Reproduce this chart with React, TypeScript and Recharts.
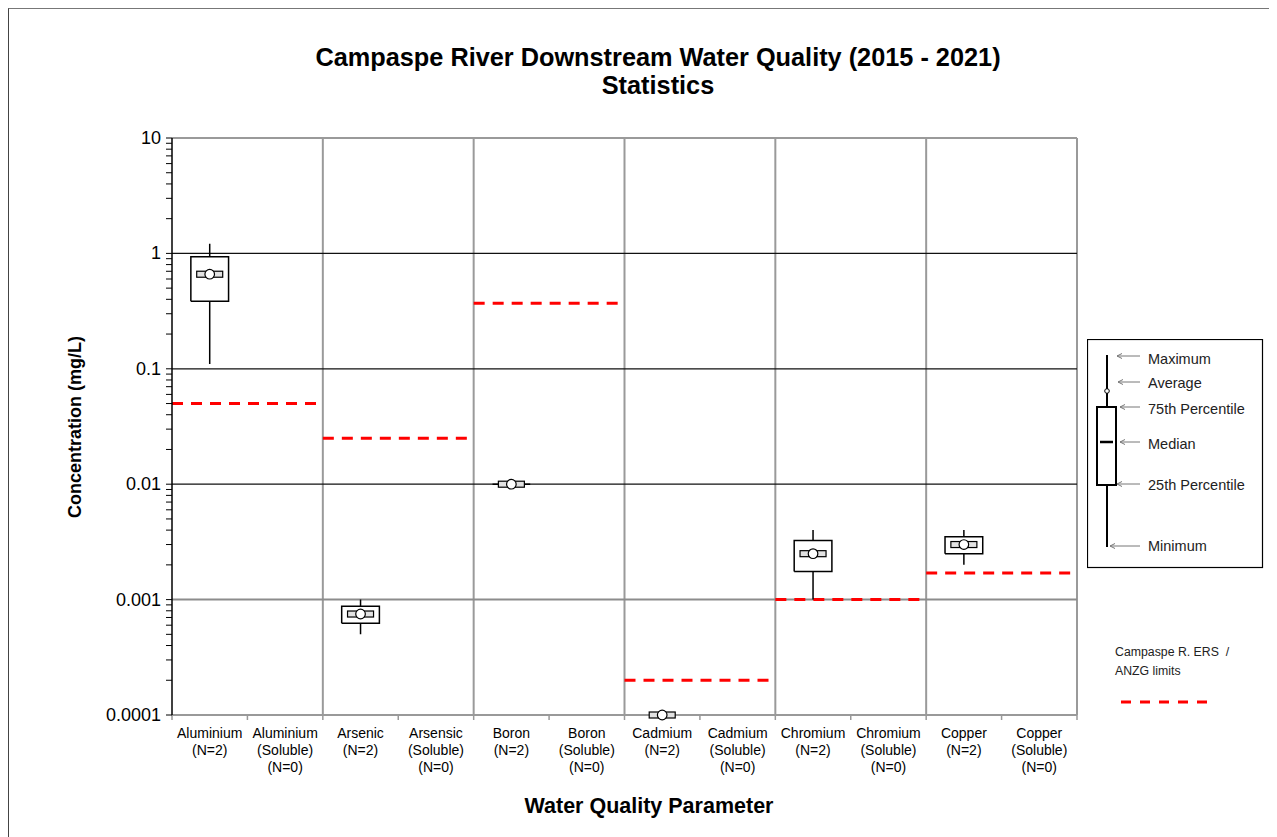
import React from 'react';
import { ComposedChart, Line, Scatter, XAxis, YAxis, ReferenceLine } from 'recharts';

// ---------- data ----------
const categoryLabels: string[][] = [
  ['Aluminium', '(N=2)'],
  ['Aluminium', '(Soluble)', '(N=0)'],
  ['Arsenic', '(N=2)'],
  ['Arsensic', '(Soluble)', '(N=0)'],
  ['Boron', '(N=2)'],
  ['Boron', '(Soluble)', '(N=0)'],
  ['Cadmium', '(N=2)'],
  ['Cadmium', '(Soluble)', '(N=0)'],
  ['Chromium', '(N=2)'],
  ['Chromium', '(Soluble)', '(N=0)'],
  ['Copper', '(N=2)'],
  ['Copper', '(Soluble)', '(N=0)'],
];

const minValues: (number | null)[] = [0.11, null, 0.0005, null, 0.01, null, 0.0001, null, 0.001, null, 0.002, null];
const q1Values: (number | null)[] = [0.385, null, 0.000625, null, 0.01, null, 0.0001, null, 0.00175, null, 0.0025, null];
const medianValues: (number | null)[] = [0.66, null, 0.00075, null, 0.01, null, 0.0001, null, 0.0025, null, 0.003, null];
const q3Values: (number | null)[] = [0.935, null, 0.000875, null, 0.01, null, 0.0001, null, 0.00325, null, 0.0035, null];
const maxValues: (number | null)[] = [1.21, null, 0.001, null, 0.01, null, 0.0001, null, 0.004, null, 0.004, null];
const averageValues: (number | null)[] = [0.66, null, 0.00075, null, 0.01, null, 0.0001, null, 0.0025, null, 0.003, null];

// one guideline limit per parameter (spans its total + soluble categories)
const limitValues: number[] = [0.05, 0.025, 0.37, 0.0002, 0.001, 0.0017];

const yMajorTicks: number[] = [0.0001, 0.001, 0.01, 0.1, 1, 10];
const yMajorTickLabels: string[] = ['0.0001', '0.001', '0.01', '0.1', '1', '10'];
const yMinorMultipliers: number[] = [2, 3, 4, 5, 6, 7, 8, 9];

const legendItems: string[] = ['Maximum', 'Average', '75th Percentile', 'Median', '25th Percentile', 'Minimum'];

// ---------- layout ----------
const OFFX = 9;
const OFFY = 9;
const CHART_W = 1080;
const CHART_H = 829;
const Y_AXIS_W = 163;
const MARGIN = { top: 129, right: 12, bottom: 122, left: 0 };
const PLOT_W = CHART_W - Y_AXIS_W - MARGIN.right - MARGIN.left;
const NCAT = categoryLabels.length;
const HALF_CAT = PLOT_W / NCAT / 2;
const BOX_HALF = 0.25; // in category units

// ---------- derived tables ----------
const yTicks: number[] = [];
yMajorTicks.forEach((t, i) => {
  yTicks.push(t);
  if (i < yMajorTicks.length - 1) yMinorMultipliers.forEach((m) => yTicks.push(m * t));
});

const boxPath: { x: number; y: number | null }[] = [];
const whiskerPath: { x: number; y: number | null }[] = [];
const medianPts: { x: number; y: number }[] = [];
const avgPts: { x: number; y: number }[] = [];
categoryLabels.forEach((_, i) => {
  const mn = minValues[i], q1 = q1Values[i], md = medianValues[i], q3 = q3Values[i], mx = maxValues[i], av = averageValues[i];
  if (mn == null || q1 == null || md == null || q3 == null || mx == null || av == null) return;
  const c = i + 0.5;
  boxPath.push(
    { x: c - BOX_HALF, y: q1 },
    { x: c + BOX_HALF, y: q1 },
    { x: c + BOX_HALF, y: q3 },
    { x: c - BOX_HALF, y: q3 },
    { x: c - BOX_HALF, y: q1 },
    { x: c, y: null }
  );
  whiskerPath.push({ x: c, y: mn }, { x: c, y: q1 }, { x: c, y: null }, { x: c, y: q3 }, { x: c, y: mx }, { x: c, y: null });
  medianPts.push({ x: c, y: md });
  avgPts.push({ x: c, y: av });
});

const limitPath: { x: number; y: number | null }[] = [];
limitValues.forEach((v, g) => {
  limitPath.push({ x: g * 2, y: v }, { x: g * 2 + 2, y: v }, { x: g * 2 + 2, y: null });
});

const xTicks = Array.from({ length: NCAT + 1 }, (_, i) => i);
const vGrid = [2, 4, 6, 8, 10, 12];

const FONT = 'Arial, "Liberation Sans", sans-serif';

const YTick = (props: any) => {
  const { x, y, payload } = props;
  const v = payload.value as number;
  const idx = yMajorTicks.findIndex((t) => Math.abs(Math.log10(t) - Math.log10(v)) < 1e-6);
  if (idx < 0) return <g />;
  return (
    <text x={x} y={y} dy={6} textAnchor="end" fontSize={18} fontFamily={FONT} fill="#000">
      {yMajorTickLabels[idx]}
    </text>
  );
};

const XTick = (props: any) => {
  const { x, y, payload } = props;
  const i = Math.round(payload.value as number);
  if (i >= NCAT) return <g />;
  const lines = categoryLabels[i];
  return (
    <text x={x + HALF_CAT} y={y} textAnchor="middle" fontSize={14} fontFamily={FONT} fill="#000">
      {lines.map((l, k) => (
        <tspan key={k} x={x + HALF_CAT} y={y + 18 + k * 17}>
          {l}
        </tspan>
      ))}
    </text>
  );
};

const MedianShape = (props: any) => {
  const { cx, cy } = props;
  return <rect x={cx - 13} y={cy - 3} width={26} height={6} fill="#e2e2e2" stroke="#000" strokeWidth={1.2} />;
};
const AvgShape = (props: any) => {
  const { cx, cy } = props;
  return <circle cx={cx} cy={cy} r={4.8} fill="#fff" stroke="#000" strokeWidth={1.2} />;
};

const legendArrowY = [356, 382, 407, 442, 484, 546];
const legendArrowX0 = [1117, 1118, 1120, 1120, 1117, 1110];
const legendTextY = [359, 383, 409, 444, 485, 546];

export default function App() {
  const ox = 1087, oy = 339;
  return (
    <div
      style={{
        position: 'relative',
        width: 1268,
        height: 828,
        borderLeft: '1px solid #444',
        borderTop: '1px solid #777',
        fontFamily: FONT,
        background: '#fff',
      }}
    >
      <div
        style={{
          position: 'absolute',
          left: 658 - OFFX - 450,
          top: 57 - OFFY - 14,
          width: 900,
          textAlign: 'center',
          fontWeight: 'bold',
          fontSize: 25.3,
          lineHeight: '28px',
        }}
      >
        Campaspe River Downstream Water Quality (2015 - 2021)
        <br />
        Statistics
      </div>

      <div style={{ position: 'absolute', left: 0, top: 0 }}>
        <ComposedChart width={CHART_W} height={CHART_H} margin={MARGIN}>
          <XAxis
            type="number"
            dataKey="x"
            domain={[0, NCAT]}
            ticks={xTicks}
            interval={0}
            height={1}
            tickSize={5}
            tickMargin={0}
            axisLine={{ stroke: '#999', strokeWidth: 2 }}
            tickLine={{ stroke: '#999', strokeWidth: 1.5 }}
            tick={<XTick />}
          />
          <YAxis
            type="number"
            dataKey="y"
            scale="log"
            domain={[0.0001, 10]}
            ticks={yTicks}
            interval={0}
            width={Y_AXIS_W}
            tickSize={6}
            tickMargin={5}
            axisLine={{ stroke: '#000', strokeWidth: 1.5 }}
            tickLine={{ stroke: '#000', strokeWidth: 1 }}
            tick={<YTick />}
          />
          {vGrid.map((v) => (
            <ReferenceLine key={'v' + v} x={v} stroke="#9a9a9a" strokeWidth={2} />
          ))}
          <ReferenceLine y={10} stroke="#9a9a9a" strokeWidth={2} />
          <ReferenceLine y={1} stroke="#111" strokeWidth={1.3} />
          <ReferenceLine y={0.1} stroke="#111" strokeWidth={1.3} />
          <ReferenceLine y={0.01} stroke="#111" strokeWidth={1.3} />
          <ReferenceLine y={0.001} stroke="#8c8c8c" strokeWidth={2} />

          <Line
            data={limitPath}
            dataKey="y"
            stroke="#ff0000"
            strokeWidth={3}
            strokeDasharray="11 8"
            dot={false}
            activeDot={false}
            isAnimationActive={false}
            type="linear"
          />
          <Line
            data={whiskerPath}
            dataKey="y"
            stroke="#000"
            strokeWidth={1.5}
            dot={false}
            activeDot={false}
            isAnimationActive={false}
            type="linear"
          />
          <Line
            data={boxPath}
            dataKey="y"
            stroke="#000"
            strokeWidth={1.5}
            dot={false}
            activeDot={false}
            isAnimationActive={false}
            type="linear"
          />
          <Scatter data={medianPts} dataKey="y" shape={<MedianShape />} isAnimationActive={false} />
          <Scatter data={avgPts} dataKey="y" shape={<AvgShape />} isAnimationActive={false} />
        </ComposedChart>
      </div>

      <div
        style={{
          position: 'absolute',
          left: 649 - OFFX - 250,
          top: 806 - OFFY - 13,
          width: 500,
          textAlign: 'center',
          fontWeight: 'bold',
          fontSize: 21.5,
          lineHeight: '26px',
        }}
      >
        Water Quality Parameter
      </div>

      <div
        style={{
          position: 'absolute',
          left: 75 - OFFX - 150,
          top: 427 - OFFY - 11,
          width: 300,
          height: 22,
          textAlign: 'center',
          fontWeight: 'bold',
          fontSize: 18,
          lineHeight: '22px',
          transform: 'rotate(-90deg)',
          transformOrigin: '50% 50%',
        }}
      >
        Concentration (mg/L)
      </div>

      <svg
        style={{ position: 'absolute', left: ox - OFFX, top: oy - OFFY }}
        width={178}
        height={232}
      >
        <rect x={0.5} y={0.5} width={175} height={228} fill="#fff" stroke="#000" strokeWidth={1.2} />
        <line x1={1107 - ox} y1={355 - oy} x2={1107 - ox} y2={547 - oy} stroke="#000" strokeWidth={2} />
        <rect x={1097 - ox} y={407 - oy} width={19} height={78} fill="#fff" stroke="#000" strokeWidth={2} />
        <line x1={1100 - ox} y1={442 - oy} x2={1113 - ox} y2={442 - oy} stroke="#000" strokeWidth={2.5} />
        <circle cx={1107 - ox} cy={391 - oy} r={2.3} fill="#fff" stroke="#000" strokeWidth={1} />
        {legendItems.map((t, i) => {
          const ay = legendArrowY[i] - oy;
          const ax0 = legendArrowX0[i] - ox;
          const ax1 = 1140 - ox;
          return (
            <g key={t}>
              <line x1={ax0} y1={ay} x2={ax1} y2={ay} stroke="#777" strokeWidth={1} />
              <line x1={ax0} y1={ay} x2={ax0 + 5} y2={ay - 2.5} stroke="#777" strokeWidth={1} />
              <line x1={ax0} y1={ay} x2={ax0 + 5} y2={ay + 2.5} stroke="#777" strokeWidth={1} />
              <text x={1148 - ox} y={legendTextY[i] - oy + 5} fontSize={14.5} fontFamily={FONT} fill="#222">
                {t}
              </text>
            </g>
          );
        })}
      </svg>

      <svg style={{ position: 'absolute', left: 1100 - OFFX, top: 630 - OFFY }} width={160} height={90}>
        <text x={1115 - 1100} y={656 - 630} fontSize={12.3} fontFamily={FONT} fill="#222">
          {'Campaspe R. ERS\u00a0 /'}
        </text>
        <text x={1115 - 1100} y={675 - 630} fontSize={12.3} fontFamily={FONT} fill="#222">
          ANZG limits
        </text>
        <line
          x1={1121 - 1100}
          y1={702 - 630}
          x2={1209 - 1100}
          y2={702 - 630}
          stroke="#ff0000"
          strokeWidth={3}
          strokeDasharray="10 9"
        />
      </svg>
    </div>
  );
}
